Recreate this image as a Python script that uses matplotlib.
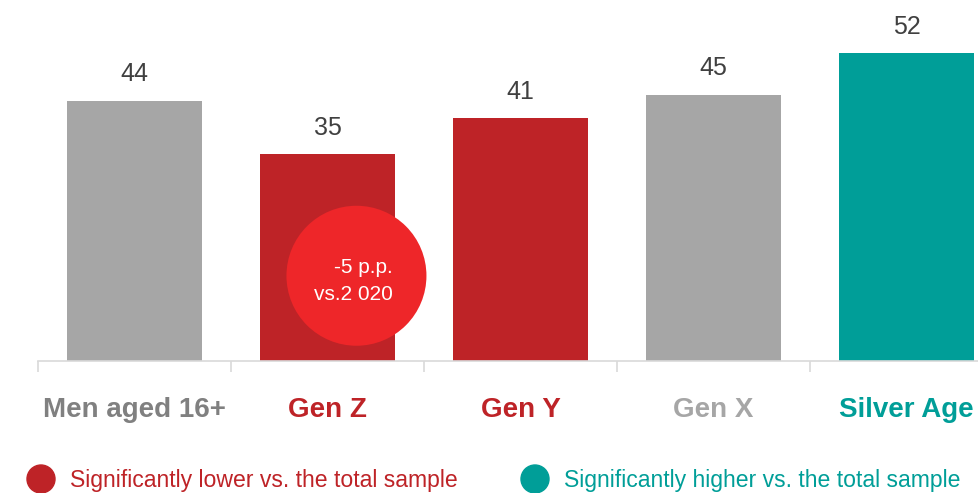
import matplotlib
matplotlib.use("Agg")
import matplotlib.pyplot as plt
from matplotlib.patches import Ellipse
from matplotlib import font_manager

categories = ["Men aged 16+", "Gen Z", "Gen Y", "Gen X", "Silver Age"]
values = [44, 35, 41, 45, 52]
bar_colors = ["#A6A6A6", "#BE2327", "#BE2327", "#A6A6A6", "#009E98"]
label_colors = ["#808080", "#BE2327", "#BE2327", "#A6A6A6", "#009E98"]
legend_labels = ["Significantly lower vs. the total sample", "Significantly higher vs. the total sample"]
legend_colors = ["#BE2327", "#009E98"]
callout_text = "-5 p.p.\nvs.2 020"
callout_index = 1

names = {f.name for f in font_manager.fontManager.ttflist}
fam = "Liberation Sans Narrow" if "Liberation Sans Narrow" in names else "Liberation Sans"
plt.rcParams["font.family"] = [fam, "DejaVu Sans"]

W, H = 979, 493
fig = plt.figure(figsize=(W / 100, H / 100), dpi=100)
ax_left = 38 / W
ax_bottom = (H - 361) / H
ax = fig.add_axes([ax_left, ax_bottom, 1 - ax_left, 1 - ax_bottom])

x = list(range(len(categories)))
ax.bar(x, values, width=0.7, color=bar_colors, zorder=2)
ax.set_xlim(-0.5, -0.5 + (W - 38) / 193)
ax.set_ylim(0, 361 / 5.92)

for xi, v in zip(x, values):
    ax.text(xi, v + 2.4, str(v), ha="center", va="bottom", fontsize=18, color="#404040")

# callout circle on Gen Z bar
px_x = 193.0
px_y = 5.92
cx = callout_index + 0.15
cy = 14.4
r = 70
ax.add_patch(Ellipse((cx, cy), 2 * r / px_x, 2 * r / px_y, color="#EE2629", zorder=3, lw=0))
ax.text(cx + 36 / px_x, cy - 5 / px_y, callout_text, ha="right", va="center", color="white",
        fontsize=15, linespacing=1.55, zorder=4)

for s in ["top", "right", "left"]:
    ax.spines[s].set_visible(False)
ax.spines["bottom"].set_color("#D9D9D9")
ax.spines["bottom"].set_linewidth(1.2)
ax.set_yticks([])
ax.set_xticks([i - 0.5 for i in range(len(categories))])
ax.set_xticklabels([])
ax.tick_params(axis="x", length=8, color="#D9D9D9", width=1.2)

for xi, lab, c in zip(x, categories, label_colors):
    ax.text(xi, -8.3, lab, ha="center", va="center", fontsize=20, fontweight="bold",
            color=c, clip_on=False)

# legend
leg_x = [41, 535]
for lx, lab, c in zip(leg_x, legend_labels, legend_colors):
    fig.patches.append(Ellipse((lx / W, (H - 479) / H), 28 / W, 28 / H, color=c,
                               transform=fig.transFigure, figure=fig))
    fig.text((lx + 29) / W, (H - 480) / H, lab, ha="left", va="center", fontsize=16.6, color=c)

fig.savefig("out.png", dpi=100)
